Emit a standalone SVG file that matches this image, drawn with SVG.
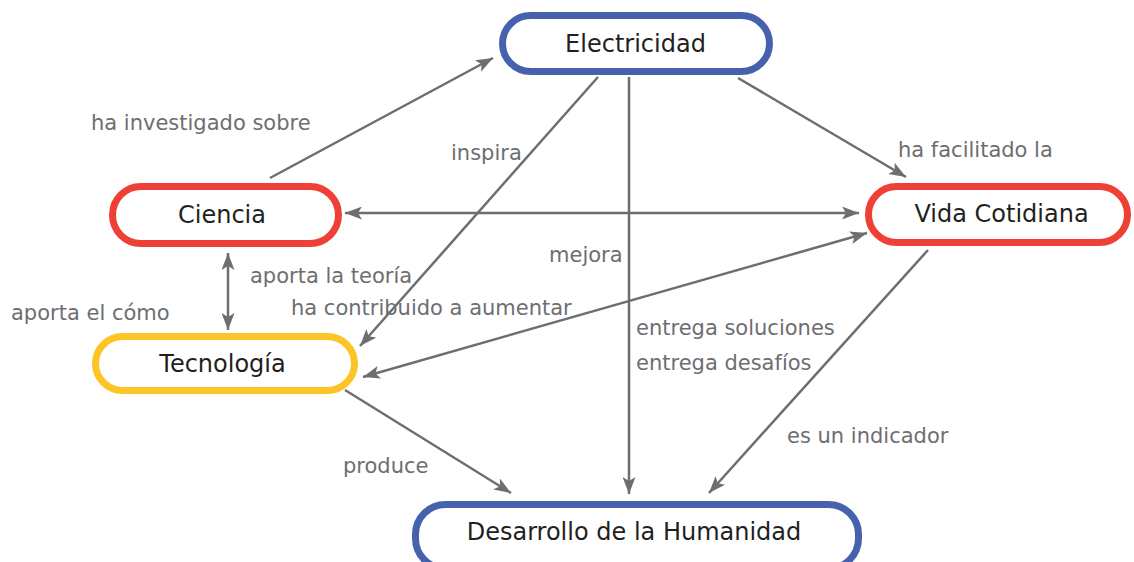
<svg xmlns="http://www.w3.org/2000/svg" width="1134" height="562" viewBox="0 0 1134 562">
<defs>
<style>
.node{fill:#fff;stroke-width:7}
.blue{stroke:#4762ad}
.red{stroke:#ee4036}
.yellow{stroke:#fcc425}
.nt{font-family:"DejaVu Sans",sans-serif;font-size:24px;fill:#231f20;text-anchor:middle}
.lb{font-family:"DejaVu Sans",sans-serif;font-size:21px;fill:#6d6e71}
.ln{stroke:#6d6e71;stroke-width:2.5;fill:none}
</style>
<marker id="ah" markerUnits="userSpaceOnUse" viewBox="0 0 17 13" refX="17" refY="6.5" markerWidth="17" markerHeight="13" orient="auto-start-reverse">
<path d="M0,0 L17,6.5 L0,13 L4,6.5 z" fill="#6d6e71"/>
</marker>
</defs>
<rect width="1134" height="562" fill="#fff"/>
<g id="connectors">
<line class="ln" x1="270" y1="178" x2="493" y2="58" marker-end="url(#ah)"/>
<line class="ln" x1="598" y1="77" x2="360" y2="346" marker-end="url(#ah)"/>
<line class="ln" x1="629" y1="77" x2="629" y2="494" marker-end="url(#ah)"/>
<line class="ln" x1="738" y1="78" x2="906" y2="177" marker-end="url(#ah)"/>
<line class="ln" x1="345" y1="213" x2="859" y2="213" marker-start="url(#ah)" marker-end="url(#ah)"/>
<line class="ln" x1="228" y1="253" x2="228" y2="330" marker-start="url(#ah)" marker-end="url(#ah)"/>
<line class="ln" x1="363" y1="377" x2="867" y2="233" marker-start="url(#ah)" marker-end="url(#ah)"/>
<line class="ln" x1="345" y1="390" x2="511" y2="493" marker-end="url(#ah)"/>
<line class="ln" x1="928" y1="250" x2="709" y2="493" marker-end="url(#ah)"/>
</g>
<g id="labels">
<text class="lb" x="91" y="130">ha investigado sobre</text>
<text class="lb" x="451" y="160">inspira</text>
<text class="lb" x="898" y="157">ha facilitado la</text>
<text class="lb" x="549" y="262">mejora</text>
<text class="lb" x="250" y="283">aporta la teoría</text>
<text class="lb" x="291" y="315">ha contribuido a aumentar</text>
<text class="lb" x="11" y="320">aporta el cómo</text>
<text class="lb" x="636" y="335">entrega soluciones</text>
<text class="lb" x="636" y="370">entrega desafíos</text>
<text class="lb" x="787" y="443">es un indicador</text>
<text class="lb" x="343" y="473">produce</text>
</g>
<g id="electricidad">
<rect class="node blue" x="502.5" y="15.5" width="267" height="56" rx="28"/>
<text class="nt" x="635.5" y="52">Electricidad</text>
</g>
<g id="ciencia">
<rect class="node red" x="112.5" y="186.5" width="226" height="57" rx="28.5"/>
<text class="nt" x="222" y="223">Ciencia</text>
</g>
<g id="vida-cotidiana">
<rect class="node red" x="868.5" y="186.5" width="259" height="56" rx="28"/>
<text class="nt" x="1001.5" y="222">Vida Cotidiana</text>
</g>
<g id="tecnologia">
<rect class="node yellow" x="95.5" y="336.5" width="259" height="54" rx="27"/>
<text class="nt" x="222.5" y="372">Tecnología</text>
</g>
<g id="desarrollo">
<rect class="node blue" x="415.5" y="504.5" width="443" height="64" rx="30"/>
<text class="nt" x="634" y="540">Desarrollo de la Humanidad</text>
</g>
</svg>
